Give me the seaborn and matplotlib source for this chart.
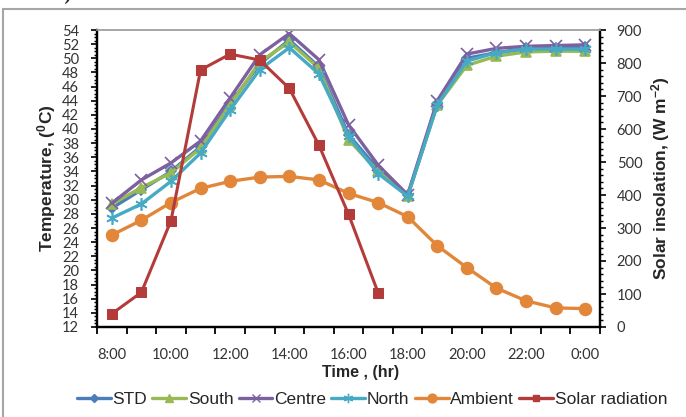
import numpy as np
import pandas as pd
import seaborn as sns
import matplotlib.pyplot as plt
from matplotlib.lines import Line2D
from matplotlib.patches import Rectangle

# data
times = ["8:00", "9:00", "10:00", "11:00", "12:00", "13:00", "14:00", "15:00", "16:00",
         "17:00", "18:00", "19:00", "20:00", "21:00", "22:00", "23:00", "0:00"]
std = [28.8, 31.4, 34.0, 37.5, 43.6, 49.2, 52.6, 48.8, 39.2, 34.3, 30.6, 43.6, 50.0, 50.8, 51.4, 51.5, 51.6]
south = [29.4, 31.7, 33.8, 37.3, 43.4, 49.5, 52.3, 48.6, 38.5, 34.0, 30.5, 43.4, 49.0, 50.3, 50.9, 51.0, 51.0]
centre = [29.5, 32.8, 35.2, 38.3, 44.4, 50.5, 53.5, 49.8, 40.6, 34.9, 30.7, 44.0, 50.6, 51.4, 51.7, 51.8, 51.9]
north = [27.4, 29.4, 32.6, 36.6, 42.7, 48.4, 51.5, 47.8, 39.0, 33.7, 30.5, 43.4, 49.6, 50.8, 51.3, 51.3, 51.3]
ambient = [25.0, 27.1, 29.6, 31.6, 32.6, 33.2, 33.3, 32.8, 30.9, 29.6, 27.6, 23.5, 20.4, 17.5, 15.7, 14.7, 14.6]
solar = [40, 105, 322, 779, 827, 809, 723, 551, 342, 104]

sns.set_theme(style="ticks")
plt.rcParams['font.family'] = ['Liberation Sans', 'DejaVu Sans']
plt.rcParams['mathtext.default'] = 'regular'

fig = plt.figure(figsize=(6.86, 4.17), dpi=100)
ax = fig.add_axes([97/686, 1 - 327/417, (600-97)/686, (327-30)/417])
ax2 = ax.twinx()

x = np.arange(len(times))
temp_series = [
    ("STD", std, "#4A7EBB", "D", 5),
    ("South", south, "#98B954", "^", 7),
    ("Centre", centre, "#7D60A0", "x", 8),
    ("North", north, "#46AAC5", (6, 2, 0), 9),
    ("Ambient", ambient, "#E2873A", "o", 8.5),
]
handles = []
for name, vals, col, mk, ms in temp_series:
    sns.lineplot(x=x, y=vals, ax=ax, color=col, marker=mk, markersize=ms, linewidth=2.4,
                 markeredgecolor=col, markeredgewidth=1.2, label=name, legend=False)
    handles.append(Line2D([], [], color=col, marker=mk, markersize=ms*0.75, lw=2.4,
                          markeredgecolor=col, label=name))

sns.lineplot(x=x[:len(solar)], y=solar, ax=ax2, color="#B33C3A", marker="s", markersize=7,
             markeredgecolor="#B33C3A", linewidth=2.2, legend=False)
handles.append(Line2D([], [], color="#B33C3A", marker="s", markersize=5, lw=2.4, label="Solar radiation"))

ax.set_xlim(-0.5, len(times) - 0.5)
ax.set_ylim(12, 54)
ax2.set_ylim(0, 900)
ax.set_yticks(np.arange(12, 55, 2))
ax.set_yticks(np.arange(12, 54.01, 0.5), minor=True)
ax2.set_yticks(np.arange(0, 901, 100))
ax2.set_yticks(np.arange(0, 901, 20), minor=True)

ax.set_xticks(np.arange(-0.5, len(times), 1))
ax.set_xticklabels([])
ax.set_xticks(x[::2], minor=True)
ax.set_xticklabels(times[::2], minor=True, fontfamily="Lato", fontsize=10.5, color="#333333")
ax.tick_params(axis="x", which="major", direction="out", length=5, width=1.3, color="black")
ax.tick_params(axis="x", which="minor", length=0, pad=15)
ax.tick_params(axis="y", which="major", direction="out", length=4, width=1.2, pad=9, color="black")
ax.tick_params(axis="y", which="minor", direction="out", length=2.5, width=1, color="black")
ax2.tick_params(axis="y", which="major", direction="out", length=4, width=1.2, pad=8, color="black")
ax2.tick_params(axis="y", which="minor", direction="out", length=2.5, width=1, color="black")
for lab in ax.get_yticklabels() + ax2.get_yticklabels():
    lab.set_fontfamily("Lato")
    lab.set_fontsize(10.5)
    lab.set_color("#333333")

for a in (ax, ax2):
    a.spines["top"].set_visible(True)
    a.spines["top"].set_color("#A6A6A6")
    a.spines["top"].set_linewidth(1.2)
    for s in ("left", "right", "bottom"):
        a.spines[s].set_color("black")
        a.spines[s].set_linewidth(1.6)
ax.set_xlabel("")
ax.set_ylabel("Temperature, ($^{0}$C)", fontsize=12.5, fontweight="bold", labelpad=3)
ax2.set_ylabel("Solar insolation, (W m$^{-2}$)", fontsize=12.5, fontweight="bold", labelpad=5)

fig.text(361/686, 1 - 373/417, "Time , (hr)", ha="center", va="center", fontsize=11.5, fontweight="bold")
fig.legend(handles=handles, loc="center", bbox_to_anchor=(372/686, 1 - 399/417), ncol=6,
           frameon=False, fontsize=12.5, handlelength=1.95, handletextpad=0.1, columnspacing=0.3)

# document frame and the cut-off line of text above it
fig.add_artist(Rectangle((3/686, -0.1), 1.2, 1.1 - 9/417, transform=fig.transFigure,
                         fill=False, edgecolor="#A6A6A6", lw=1.5))
fig.text(0.004, 1.012, "12:00 h).", fontsize=14, fontweight="bold", family="Liberation Serif",
         va="center", ha="left")

fig.savefig("out.png", dpi=100)
